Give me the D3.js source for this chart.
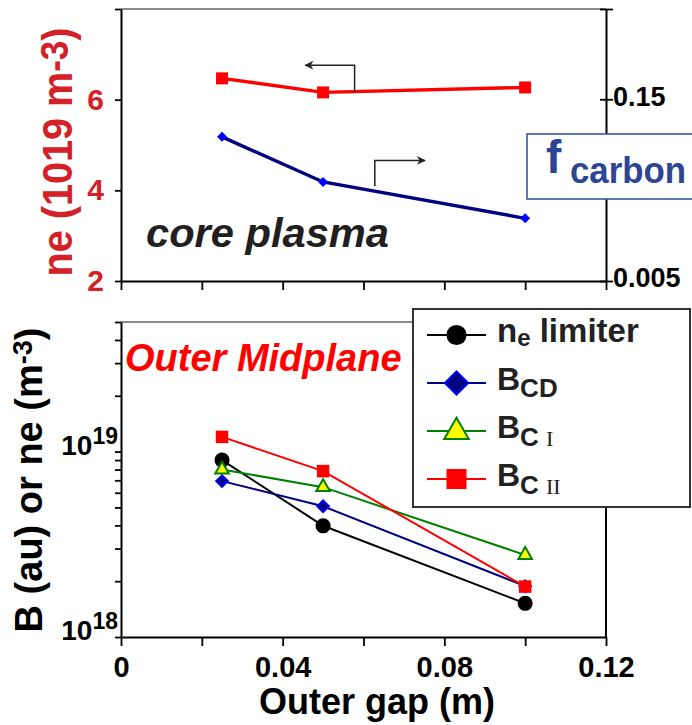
<!DOCTYPE html>
<html>
<head>
<meta charset="utf-8">
<script src="https://cdn.jsdelivr.net/npm/d3@7/dist/d3.min.js"></script>
<style>
  body { margin: 0; background: #fff; }
  svg { display: block; font-family: "Liberation Sans", Arial, Helvetica, sans-serif; font-weight: bold; }
</style>
</head>
<body>
<script>
// Outer gap scan (m)
const gaps = [0.025, 0.05, 0.1];

// Core plasma: line-averaged density (1e19 m^-3) and carbon fraction
const coreNe = [6.47, 6.16, 6.27];
const coreFcarbon = [0.120, 0.084, 0.055];

// Outer midplane: limiter density and carbon brightness (au)
const neLimiter = [9.0e18, 3.98e18, 1.52e18];
const bCD = [6.93e18, 5.07e18, 1.88e18];
const bCI = [8.0e18, 6.43e18, 2.77e18];
const bCII = [1.2e19, 7.85e18, 1.87e18];

// Axis ticks
const gapTicks = [0, 0.02, 0.04, 0.06, 0.08, 0.1, 0.12];
const gapTickLabels = ["0", "", "0.04", "", "0.08", "", "0.12"];
const neTicks = [2, 4, 6, 8];
const neTickLabels = ["2", "4", "6", ""];
const fTicks = [0.005, 0.15, 0.222];
const fTickLabels = ["0.005", "0.15", ""];
const bTicks = [1e18, 2e18, 3e18, 4e18, 5e18, 6e18, 7e18, 8e18, 9e18, 1e19, 2e19, 3e19, 4e19, 5e19];
const bMajorTicks = [1e18, 1e19];
const bMajorExp = ["18", "19"];

const W = 692, H = 725;
const svg = d3.select("body").append("svg").attr("width", W).attr("height", H);

const x = d3.scaleLinear().domain([0, 0.12]).range([121, 606]);
const yNe = d3.scaleLinear().domain([2, 8]).range([281, 9]);
const yF = d3.scaleLinear().domain([0.005, 0.222]).range([281, 9]);
const yB = d3.scaleLog().domain([1e18, 5e19]).range([637, 322]);

const red = "#ff0000", navy = "#000080", darkRed = "#d42027", carbonBlue = "#2c4594";

function styleAxis(g, w) {
  g.select(".domain").attr("stroke", "#000").attr("stroke-width", w || 2);
  g.selectAll(".tick line").attr("stroke", "#000").attr("stroke-width", 1.8);
  g.selectAll(".tick text").attr("fill", "#000").attr("font-family", null);
}

/* ---------------- upper panel: core plasma ---------------- */
const corePanel = svg.append("g");

corePanel.append("line").attr("x1", x(0)).attr("x2", x(0.12)).attr("y1", yNe(8)).attr("y2", yNe(8))
  .attr("stroke", "#8a8a8a").attr("stroke-width", 2);

const coreX = corePanel.append("g").attr("transform", `translate(0,${yNe(2)})`)
  .call(d3.axisBottom(x).tickValues(gapTicks).tickSize(9).tickSizeOuter(0).tickFormat(""));
styleAxis(coreX);

const coreL = corePanel.append("g").attr("transform", `translate(${x(0)},0)`)
  .call(d3.axisLeft(yNe).tickValues(neTicks).tickSize(6).tickSizeOuter(0).tickPadding(11)
    .tickFormat((d, i) => neTickLabels[i]));
styleAxis(coreL);
coreL.selectAll(".tick text").attr("fill", darkRed).attr("font-size", 30).attr("font-weight", "bold");

const coreR = corePanel.append("g").attr("transform", `translate(${x(0.12)},0)`)
  .call(d3.axisRight(yF).tickValues(fTicks).tickSize(7).tickSizeOuter(0).tickPadding(0)
    .tickFormat((d, i) => fTickLabels[i]));
styleAxis(coreR);
coreR.selectAll(".tick line").attr("x1", -6);
coreR.selectAll(".tick text").attr("font-size", 27).attr("font-weight", "bold").attr("dy", "0.22em");

// density and carbon fraction traces
const lineNe = d3.line().x((d, i) => x(gaps[i])).y(d => yNe(d));
const lineF = d3.line().x((d, i) => x(gaps[i])).y(d => yF(d));
corePanel.append("path").attr("d", lineNe(coreNe)).attr("fill", "none").attr("stroke", red).attr("stroke-width", 3.4);
corePanel.append("path").attr("d", lineF(coreFcarbon)).attr("fill", "none").attr("stroke", navy).attr("stroke-width", 3.4);

corePanel.append("g").selectAll("path").data(coreNe).join("path")
  .attr("transform", (d, i) => `translate(${x(gaps[i])},${yNe(d)})`)
  .attr("d", d3.symbol(d3.symbolSquare, 144)()).attr("fill", red);
corePanel.append("g").selectAll("path").data(coreFcarbon).join("path")
  .attr("transform", (d, i) => `translate(${x(gaps[i])},${yF(d)}) rotate(45)`)
  .attr("d", d3.symbol(d3.symbolSquare, 50)()).attr("fill", "#0000ff");

// arrows pointing to the relevant axis
const defs = svg.append("defs");
defs.append("marker").attr("id", "ah").attr("viewBox", "0 0 10 10").attr("refX", 9).attr("refY", 5)
  .attr("markerWidth", 9).attr("markerHeight", 9).attr("markerUnits", "userSpaceOnUse").attr("orient", "auto")
  .append("path").attr("d", "M0,0 L10,5 L0,10 L3,5 Z").attr("fill", "#222");
corePanel.append("path").attr("d", `M${x(0.0578)},${yNe(6.17)} V${yNe(6.76)} H${x(0.0456)}`)
  .attr("fill", "none").attr("stroke", "#222").attr("stroke-width", 1.5).attr("marker-end", "url(#ah)");
corePanel.append("path").attr("d", `M${x(0.0628)},${yNe(4.09)} V${yNe(4.66)} H${x(0.0752)}`)
  .attr("fill", "none").attr("stroke", "#222").attr("stroke-width", 1.5).attr("marker-end", "url(#ah)");

corePanel.append("text").attr("x", 146).attr("y", 247).attr("font-size", 41).attr("font-style", "italic")
  .attr("fill", "#231f20").attr("textLength", 243).attr("lengthAdjust", "spacingAndGlyphs").text("core plasma");

const neTitle = corePanel.append("text").attr("transform", "translate(72,152) rotate(-90)")
  .attr("text-anchor", "middle").attr("font-size", 43).attr("fill", darkRed)
  .attr("textLength", 249).attr("lengthAdjust", "spacingAndGlyphs");
neTitle.append("tspan").text("ne (1019 m");
neTitle.append("tspan").attr("dy", -4).attr("font-size", 38).text("-3");
neTitle.append("tspan").attr("dy", 4).text(")");

corePanel.append("rect").attr("x", 527).attr("y", 134).attr("width", 200).attr("height", 65)
  .attr("fill", "#fff").attr("stroke", "#3a55a4").attr("stroke-width", 1.6);
const fLab = corePanel.append("text").attr("x", 546).attr("y", 173).attr("fill", carbonBlue);
fLab.append("tspan").attr("font-size", 46).text("f");
fLab.append("tspan").attr("x", 570).attr("y", 183).attr("font-size", 37)
  .attr("textLength", 116).attr("lengthAdjust", "spacingAndGlyphs").text("carbon");

/* ---------------- lower panel: outer midplane ---------------- */
const midPanel = svg.append("g");

midPanel.append("line").attr("x1", x(0)).attr("x2", x(0.12)).attr("y1", yB(5e19)).attr("y2", yB(5e19))
  .attr("stroke", "#8a8a8a").attr("stroke-width", 2);
midPanel.append("line").attr("x1", x(0.12)).attr("x2", x(0.12)).attr("y1", yB(5e19)).attr("y2", yB(1e18))
  .attr("stroke", "#000").attr("stroke-width", 2);

const midX = midPanel.append("g").attr("transform", `translate(0,${yB(1e18)})`)
  .call(d3.axisBottom(x).tickValues(gapTicks).tickSize(9).tickSizeOuter(0).tickPadding(10)
    .tickFormat((d, i) => gapTickLabels[i]));
styleAxis(midX);
midX.selectAll(".tick text").attr("font-size", 29).attr("font-weight", "bold");

const midL = midPanel.append("g").attr("transform", `translate(${x(0)},0)`)
  .call(d3.axisLeft(yB).tickValues(bTicks).tickSize(6).tickSizeOuter(0).tickFormat(""));
styleAxis(midL);

bMajorTicks.forEach((v, i) => {
  const t = midPanel.append("text").attr("x", 118).attr("y", yB(v) + 3).attr("text-anchor", "end").attr("font-size", 28);
  t.append("tspan").text("10");
  t.append("tspan").attr("dy", -11).attr("font-size", 23).text(bMajorExp[i]);
});

midPanel.append("text").attr("x", 125).attr("y", 371).attr("font-size", 38).attr("font-style", "italic")
  .attr("fill", red).text("Outer Midplane");

const series = [
  { vals: neLimiter, color: "#000", sym: d3.symbolCircle, size: 180, fill: "#000", stroke: "none", rot: 0 },
  { vals: bCD, color: navy, sym: d3.symbolSquare, size: 68, fill: navy, stroke: "#0000ff", rot: 45 },
  { vals: bCI, color: "#008000", sym: d3.symbolTriangle, size: 80, fill: "#ffff00", stroke: "#008000", rot: 0 },
  { vals: bCII, color: red, sym: d3.symbolSquare, size: 156, fill: red, stroke: "none", rot: 0 }
];
const lineB = d3.line().x((d, i) => x(gaps[i])).y(d => yB(d));
series.forEach(s => {
  midPanel.append("path").attr("d", lineB(s.vals)).attr("fill", "none").attr("stroke", s.color).attr("stroke-width", 2);
});
series.forEach(s => {
  midPanel.append("g").selectAll("path").data(s.vals).join("path")
    .attr("transform", (d, i) => `translate(${x(gaps[i])},${yB(d)}) rotate(${s.rot})`)
    .attr("d", d3.symbol(s.sym, s.size)()).attr("fill", s.fill)
    .attr("stroke", s.stroke).attr("stroke-width", 2);
});

const bTitle = midPanel.append("text").attr("transform", "translate(42,480) rotate(-90)")
  .attr("text-anchor", "middle").attr("font-size", 38).attr("fill", "#000");
bTitle.append("tspan").text("B (au) or ne (m");
bTitle.append("tspan").attr("dy", -10).attr("font-size", 27).text("-3");
bTitle.append("tspan").attr("dy", 10).text(")");

svg.append("text").attr("x", 377).attr("y", 714).attr("text-anchor", "middle").attr("font-size", 36)
  .text("Outer gap (m)");

// legend
const leg = svg.append("g");
leg.append("rect").attr("x", 413).attr("y", 309).attr("width", 277).attr("height", 198)
  .attr("fill", "#fff").attr("stroke", "#333").attr("stroke-width", 2);
const legRows = [335, 383, 431, 479];
const legSizes = [320, 270, 260, 400];
series.forEach((s, i) => {
  const y = legRows[i];
  leg.append("line").attr("x1", 427).attr("x2", 486).attr("y1", y).attr("y2", y)
    .attr("stroke", s.color).attr("stroke-width", 2);
  leg.append("path").attr("transform", `translate(456.5,${y + (s.sym === d3.symbolTriangle ? 1 : 0)}) rotate(${s.rot})`)
    .attr("d", d3.symbol(s.sym, legSizes[i])()).attr("fill", s.fill)
    .attr("stroke", s.stroke).attr("stroke-width", 2);
});
const l1 = leg.append("text").attr("x", 497).attr("y", 342).attr("font-size", 33).attr("fill", "#222");
l1.append("tspan").text("n");
l1.append("tspan").attr("dy", 4).attr("font-size", 24).text("e");
l1.append("tspan").attr("dy", -4).text(" limiter");
const l2 = leg.append("text").attr("x", 497).attr("y", 390).attr("font-size", 32).attr("fill", "#222");
l2.append("tspan").text("B");
l2.append("tspan").attr("dy", 7).attr("font-size", 26).text("CD");
[["I", 438], ["II", 486]].forEach(([num, y]) => {
  const t = leg.append("text").attr("x", 497).attr("y", y).attr("font-size", 32).attr("fill", "#222");
  t.append("tspan").text("B");
  t.append("tspan").attr("dy", 8).attr("font-size", 26).text("C");
  t.append("tspan").attr("dx", 7).attr("font-size", 22).attr("font-weight", "normal")
    .attr("font-family", "'Liberation Serif', 'Times New Roman', serif").text(num);
});
</script>
</body>
</html>
